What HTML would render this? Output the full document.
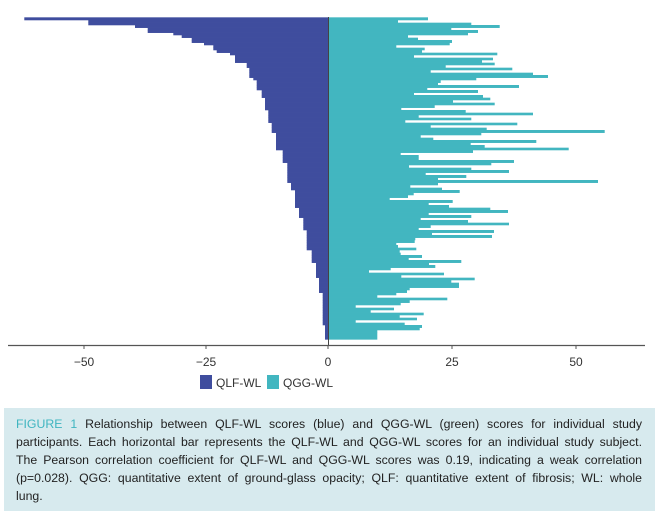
<!DOCTYPE html>
<html><head><meta charset="utf-8"><style>
body{margin:0;width:659px;height:521px;background:#fff;font-family:"Liberation Sans",sans-serif;overflow:hidden;position:relative}
svg{position:absolute;left:0;top:0}
.cap{position:absolute;left:4px;top:408px;width:651px;height:103px;background:#d7eaee}
.cap div{position:absolute;left:12px;width:626px;font-size:12.3px;color:#222;text-align:justify;text-align-last:justify;white-space:nowrap;}
.cap div.l{text-align-last:left}
.cap b{color:#3fb5c0;font-weight:normal}
</style></head><body>
<svg id="s" width="659" height="400" xmlns="http://www.w3.org/2000/svg"></svg>
<div class="cap">
<div style="top:9px"><b>FIGURE 1</b> Relationship between QLF-WL scores (blue) and QGG-WL (green) scores for individual study</div>
<div style="top:27px">participants. Each horizontal bar represents the QLF-WL and QGG-WL scores for an individual study subject.</div>
<div style="top:45px">The Pearson correlation coefficient for QLF-WL and QGG-WL scores was 0.19, indicating a weak correlation</div>
<div style="top:63px">(p=0.028). QGG: quantitative extent of ground-glass opacity; QLF: quantitative extent of fibrosis; WL: whole</div>
<div class="l" style="top:81px">lung.</div>
</div>
<script>
var g=[[22,300],[30,210],[38,430],[45,515],[53,370],[60,450],[68,420],[75,240],[83,270],[90,372],[98,365],[105,205],[113,290],[120,282],[128,508],[135,258],[143,495],[150,462],[158,500],[165,353],[173,553],[180,308],[188,615],[195,660],[203,445],[210,338],[218,330],[225,573],[233,298],[240,450],[248,258],[255,465],[263,487],[270,375],[278,500],[285,320],[293,220],[300,413],[308,615],[315,272],[323,430],[330,232],[338,568],[345,308],[353,476],[360,830],[368,460],[375,278],[383,316],[390,625],[398,428],[405,470],[413,722],[420,435],[428,218],[435,272],[443,272],[450,558],[458,490],[465,243],[473,430],[480,543],[488,293],[495,415],[503,330],[510,810],[518,330],[525,247],[533,342],[540,395],[548,257],[555,240],[563,185],[570,374],[578,302],[585,363],[593,487],[600,540],[608,302],[615,430],[623,278],[630,420],[638,543],[645,308],[653,272],[660,498],[668,312],[675,492],[683,262],[690,260],[698,205],[705,210],[713,265],[720,215],[728,218],[735,282],[743,242],[750,400],[758,303],[765,322],[773,188],[780,123],[788,348],[795,220],[803,440],[810,370],[818,393],[825,393],[833,245],[840,237],[848,205],[855,148],[863,358],[870,245],[878,218],[885,83],[893,198],[900,128],[908,287],[915,215],[923,267],[930,83],[938,230],[945,282],[953,275],[960,148],[968,148]];
var b=[[32,73],[48,265],[52,405],[65,443],[70,497],[78,520],[85,545],[95,575],[100,588],[108,612],[120,640],[128,650],[135,690],[160,705],[170,740],[200,748],[210,760],[240,770],[260,785],[300,795],[340,805],[370,815],[420,828],[460,848],[520,862],[540,873],[590,885],[620,897],[660,910],[720,920],[760,935],[800,948],[845,957],[945,968],[975,975],[990,982]];
function bl(z){for(var i=0;i<b.length;i++){if(z<b[i][0])return b[i][1];}return 982;}
var h='';
for(var i=0;i<g.length;i++){var z0=g[i][0],z1=(i+1<g.length?g[i+1][0]:988);
var y=10+z0/3,hh=(z1-z0)/3+0.3;var xl=bl(z0+3)/3;
h+='<rect x="'+xl.toFixed(1)+'" y="'+y.toFixed(2)+'" width="'+(328-xl).toFixed(1)+'" height="'+hh.toFixed(2)+'" fill="#3f4d9e"/>';
h+='<rect x="328" y="'+y.toFixed(2)+'" width="'+(g[i][1]/3).toFixed(1)+'" height="'+hh.toFixed(2)+'" fill="#42b6c0"/>';}
h+='<line x1="328.5" y1="17" x2="328.5" y2="345" stroke="#444" stroke-width="1"/>';
h+='<line x1="8" y1="345.5" x2="645" y2="345.5" stroke="#555" stroke-width="1.2"/>';
var t=[[84,'\u221250'],[206,'\u221225'],[328,'0'],[452,'25'],[576,'50']];
t.forEach(function(a){h+='<line x1="'+a[0]+'" y1="345" x2="'+a[0]+'" y2="349" stroke="#555"/><text x="'+a[0]+'" y="366" font-size="12" fill="#333" text-anchor="middle" font-family="Liberation Sans">'+a[1]+'</text>';});
h+='<rect x="200" y="375" width="12" height="14" fill="#3f4d9e"/><text x="216" y="387" font-size="12" fill="#333" font-family="Liberation Sans">QLF-WL</text>';
h+='<rect x="267" y="375" width="12" height="14" fill="#42b6c0"/><text x="283" y="387" font-size="12" fill="#333" font-family="Liberation Sans">QGG-WL</text>';
document.getElementById('s').innerHTML=h;
</script>
</body></html>
